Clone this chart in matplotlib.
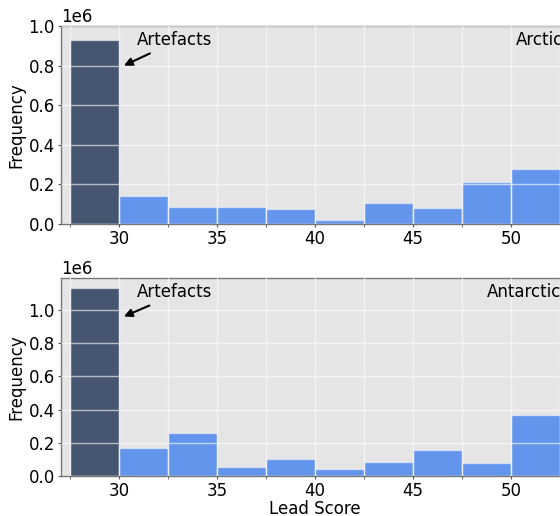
import numpy as np
import matplotlib
matplotlib.use("Agg")
import matplotlib.pyplot as plt
from matplotlib.ticker import MultipleLocator

# Histogram bins (Lead Score) and counts
bin_edges = [27.5, 30.0, 32.5, 35.0, 37.5, 40.0, 42.5, 45.0, 47.5, 50.0, 52.5]
arctic_counts = [931000, 143000, 86000, 84000, 76000, 20000, 108000, 79000, 212000, 276000]
antarctic_counts = [1134000, 167000, 257000, 56000, 104000, 44000, 86000, 157000, 80000, 366000]
panel_labels = ["Arctic", "Antarctic"]
panel_label_x = [0.896, 0.839]
panel_ylim = [1.0e6, 1.19e6]
arrow_tip_y = [0.80e6, 0.96e6]

artefact_color = "#475670"
bar_color = "#6495ED"

plt.rcParams["font.family"] = "DejaVu Sans"
plt.rcParams["font.size"] = 12

fig = plt.figure(figsize=(5.6, 5.16), dpi=100)
ax_top = fig.add_axes([61 / 560, 292 / 516, 508 / 560, 198 / 516])
ax_bot = fig.add_axes([61 / 560, 40 / 516, 508 / 560, 197.7 / 516])

for i, (ax, counts) in enumerate(zip([ax_top, ax_bot], [arctic_counts, antarctic_counts])):
	ax.set_facecolor("#E5E5E5")
	lefts = bin_edges[:-1]
	widths = np.diff(bin_edges)
	colors = [artefact_color] + [bar_color] * (len(counts) - 1)
	ax.bar(lefts, counts, width=widths, align="edge", color=colors,
		edgecolor=(1, 1, 1, 0.5), linewidth=1)
	# Grid on top of the bars
	ax.set_axisbelow(False)
	ax.xaxis.set_major_locator(MultipleLocator(5))
	ax.xaxis.set_minor_locator(MultipleLocator(2.5))
	ax.yaxis.set_major_locator(MultipleLocator(0.2e6))
	ax.grid(True, which="major", color="white", alpha=0.6, linewidth=1)
	ax.grid(True, which="minor", axis="x", color="white", alpha=0.6, linewidth=1)
	ax.set_xlim(27.04, 52.96)
	ax.set_ylim(0, panel_ylim[i])
	for side in ["left", "bottom", "top"]:
		ax.spines[side].set_color("#777777")
		ax.spines[side].set_linewidth(1)
	ax.spines["right"].set_visible(False)
	ax.tick_params(which="both", direction="out", color="#555555", labelsize=12,
		length=2.5, pad=2)
	ax.yaxis.get_offset_text().set_fontsize(12)
	ax.set_ylabel("Frequency", fontsize=12, labelpad=2)
	# Labels
	ax.annotate("Artefacts", xy=(30.25, arrow_tip_y[i]), xytext=(0.1496, 0.93),
		textcoords="axes fraction", ha="left", va="center", fontsize=12,
		arrowprops=dict(arrowstyle="-|>", color="black", lw=1.5, relpos=(0.3, 0), shrinkA=3, shrinkB=0))
	ax.text(panel_label_x[i], 0.93, panel_labels[i], transform=ax.transAxes,
		ha="left", va="center", fontsize=12)

ax_bot.set_xlabel("Lead Score", fontsize=12, labelpad=0)

plt.savefig("out.png", dpi=100)
